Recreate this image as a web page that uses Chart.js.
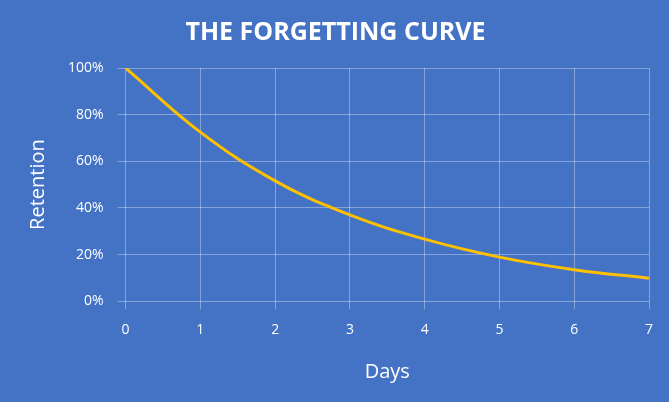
<!DOCTYPE html>
<html>
<head>
<meta charset="utf-8">
<script src="https://cdn.jsdelivr.net/npm/chart.js@4"></script>
<style>
  html, body { margin: 0; padding: 0; background: #4472C4; }
  #wrap { width: 669px; height: 402px; }
</style>
</head>
<body>
<div id="wrap"><canvas id="curve" width="669" height="402"></canvas></div>
<script>
const days = [0, 1, 2, 3, 4, 5, 6, 7];
const retention = [100, 72.5, 51.6, 37, 26.6, 18.9, 13.5, 9.8];

const white = '#FFFFFF';
const grid = 'rgba(255,255,255,0.35)';

new Chart(document.getElementById('curve'), {
    type: 'line',
    data: {
        datasets: [{
            data: days.map((d, i) => ({ x: d, y: retention[i] })),
            borderColor: '#FFC000',
            borderWidth: 3,
            pointRadius: 0,
            tension: 0.4,
            fill: false
        }]
    },
    options: {
        responsive: false,
        animation: false,
        layout: { padding: { left: 22, right: 20, top: 10, bottom: 14 } },
        plugins: {
            legend: { display: false },
            tooltip: { enabled: false },
            title: {
                display: true,
                text: 'THE FORGETTING CURVE',
                color: white,
                font: { family: 'Open Sans', size: 25, weight: 'bold' },
                padding: { top: 8, bottom: 20 }
            }
        },
        scales: {
            x: {
                type: 'linear',
                min: 0, max: 7,
                ticks: { stepSize: 1, color: white, padding: 12, font: { family: 'Open Sans', size: 14 } },
                grid: { color: grid },
                border: { display: false },
                title: { display: true, text: 'Days', color: white, padding: { top: 10 }, font: { family: 'Open Sans', size: 20 } }
            },
            y: {
                min: 0, max: 100,
                ticks: { stepSize: 20, color: white, padding: 14, callback: v => v + '%', font: { family: 'Open Sans', size: 14 } },
                grid: { color: grid },
                border: { display: false },
                title: { display: true, text: 'Retention', color: white, font: { family: 'Open Sans', size: 20 } }
            }
        }
    },
    plugins: [{
        id: 'bg',
        beforeDraw(chart) {
            const ctx = chart.ctx;
            ctx.save();
            ctx.fillStyle = '#4472C4';
            ctx.fillRect(0, 0, chart.width, chart.height);
            ctx.restore();
        }
    }]
});
</script>
</body>
</html>
